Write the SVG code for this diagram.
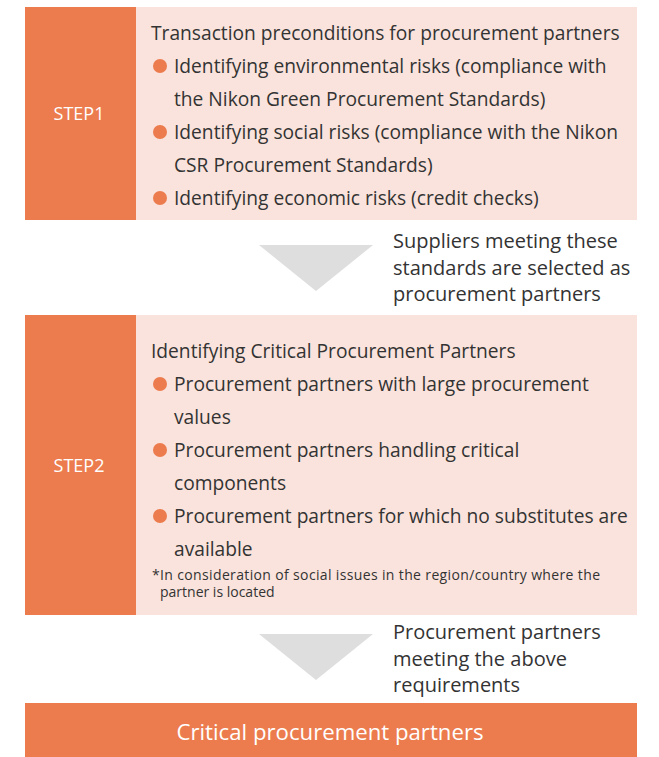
<svg xmlns="http://www.w3.org/2000/svg" width="659" height="757" viewBox="0 0 659 757">
<style>
.o{fill:#EC7C4E}
.p{fill:#FAE3DC}
.t{font-family:"Open Sans","Noto Sans",sans-serif;font-size:19.2px;fill:#333333}
.r{font-family:"Open Sans","Noto Sans",sans-serif;font-size:20px;fill:#333333}
.w{font-family:"Open Sans","Noto Sans",sans-serif;fill:#FFFFFF}
.f{font-family:"Open Sans","Noto Sans",sans-serif;font-size:14px;fill:#333333}
.b{fill:#EC7C4E}
.a{fill:#DEDEDE}
</style>
<rect width="659" height="757" fill="#FFFFFF"/>
<g id="step1">
<rect class="o" x="25" y="7" width="111" height="213"/>
<rect class="p" x="136" y="7" width="501" height="213"/>
<text class="w" x="79" y="120" font-size="18" text-anchor="middle">STEP1</text>
<text class="t" x="151" y="40">Transaction preconditions for procurement partners</text>
<circle class="b" cx="160" cy="66" r="7"/>
<text class="t" x="174" y="73">Identifying environmental risks (compliance with</text>
<text class="t" x="174" y="106">the Nikon Green Procurement Standards)</text>
<circle class="b" cx="160" cy="132" r="7"/>
<text class="t" x="174" y="139">Identifying social risks (compliance with the Nikon</text>
<text class="t" x="174" y="172">CSR Procurement Standards)</text>
<circle class="b" cx="160" cy="198" r="7"/>
<text class="t" x="174" y="205">Identifying economic risks (credit checks)</text>
</g>
<g id="step2">
<rect class="o" x="25" y="315" width="111" height="300"/>
<rect class="p" x="136" y="315" width="501" height="300"/>
<text class="w" x="79" y="472" font-size="18" text-anchor="middle">STEP2</text>
<text class="t" x="151" y="358">Identifying Critical Procurement Partners</text>
<circle class="b" cx="160" cy="384" r="7"/>
<text class="t" x="174" y="391">Procurement partners with large procurement</text>
<text class="t" x="174" y="424">values</text>
<circle class="b" cx="160" cy="450" r="7"/>
<text class="t" x="174" y="457">Procurement partners handling critical</text>
<text class="t" x="174" y="490">components</text>
<circle class="b" cx="160" cy="516" r="7"/>
<text class="t" x="174" y="523">Procurement partners for which no substitutes are</text>
<text class="t" x="174" y="556">available</text>
<text class="f" x="152" y="580" textLength="448" lengthAdjust="spacing">*In consideration of social issues in the region/country where the</text>
<text class="f" x="160" y="597">partner is located</text>
</g>
<g id="final">
<rect class="o" x="25" y="703" width="612" height="54"/>
<text class="w" x="330" y="740" font-size="22.2" text-anchor="middle">Critical procurement partners</text>
</g>
<g id="connectors">
<polygon class="a" points="259,245 373,245 316,291"/>
<text class="r" x="393" y="248">Suppliers meeting these</text>
<text class="r" x="393" y="275">standards are selected as</text>
<text class="r" x="393" y="301">procurement partners</text>
<polygon class="a" points="259,634 373,634 316,680"/>
<text class="r" x="393" y="639">Procurement partners</text>
<text class="r" x="393" y="666">meeting the above</text>
<text class="r" x="393" y="692">requirements</text>
</g>
</svg>
